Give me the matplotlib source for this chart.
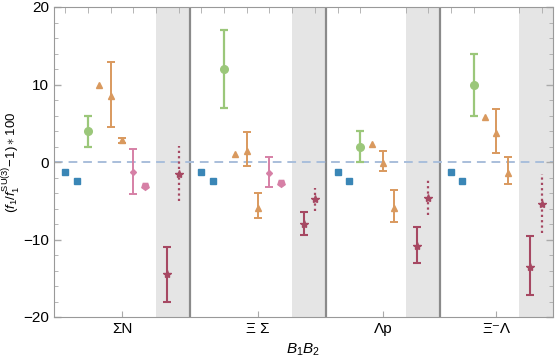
import numpy as np
import matplotlib
matplotlib.use("Agg")
import matplotlib.pyplot as plt

plt.rcParams['font.family'] = ['Liberation Sans', 'DejaVu Sans']
plt.rcParams['mathtext.fontset'] = 'custom'
plt.rcParams['mathtext.rm'] = 'Liberation Sans'
plt.rcParams['mathtext.it'] = 'Liberation Sans:italic'

# %%
# groups and slot layout (one x unit per slot)
groups = ["ΣN", "Ξ Σ", "Λp", "Ξ⁻Λ"]
group_centers = [6, 18, 29, 39]
separators = [12, 24, 34]
shade_ranges = [(9, 12), (21, 24), (31, 34), (41, 44)]

# blue squares (no error)
blue1_x = [1, 13, 25, 35]
blue1_y = [-1.25, -1.25, -1.25, -1.25]
blue2_x = [2, 14, 26, 36]
blue2_y = [-2.5, -2.4, -2.4, -2.5]

# green circles
green_x = [3, 15, 27, 37]
green_y = [4.0, 12.0, 2.0, 10.0]
green_lo = [2.0, 7.0, 0.0, 6.0]
green_hi = [6.0, 17.0, 4.0, 14.0]

# orange triangles without error
otri_x = [4, 16, 28, 38]
otri_y = [9.9, 1.0, 2.3, 5.8]

# orange with error, first
or1_x = [5, 17, 29, 39]
or1_y = [8.5, 1.4, -0.1, 3.7]
or1_lo = [4.5, -0.5, -1.2, 1.2]
or1_hi = [12.9, 3.9, 1.4, 6.8]

# orange with error, second
or2_x = [6, 18, 30, 40]
or2_y = [2.8, -5.9, -5.9, -1.4]
or2_lo = [2.5, -7.2, -7.8, -2.8]
or2_hi = [3.1, -4.0, -3.6, 0.6]

# pink with error
pink_x = [7, 19]
pink_y = [-1.3, -1.4]
pink_lo = [-4.1, -3.2]
pink_hi = [1.7, 0.6]

# pink without error
pink2_x = [8, 20]
pink2_y = [-3.05, -2.7]

# dark red, solid errors
red_x = [10, 22, 32, 42]
red_y = [-14.5, -8.0, -10.8, -13.5]
red_lo = [-18.0, -9.4, -13.0, -17.2]
red_hi = [-11.0, -6.4, -8.4, -9.6]

# dark red, dotted errors
redd_x = [11, 23, 33, 43]
redd_y = [-1.5, -4.8, -4.6, -5.4]
redd_lo = [-5.0, -6.3, -6.8, -9.2]
redd_hi = [2.1, -3.3, -2.15, -1.5]

c_blue = "#3a86b6"
c_green = "#9bc77a"
c_orange = "#d9995e"
c_pink = "#d680a6"
c_red = "#a64862"

# %%
fig = plt.figure(figsize=(5.56, 3.6), dpi=100)
ax = fig.add_axes([54/556, 1-317/360, 499/556, 310/360])

for a, b in shade_ranges:
    ax.axvspan(a, b, color="#e5e5e5", lw=0, zorder=0)
for s in separators:
    ax.axvline(s, color="#8a8a8a", lw=1.6, zorder=1)
ax.axhline(0, color="#a9bedb", lw=1.4, ls=(0, (4.5, 3)), zorder=1)


def err(x, y, lo, hi):
    y = np.array(y)
    return np.array(x), y, np.vstack([y - np.array(lo), np.array(hi) - y])


ax.plot(blue1_x, blue1_y, "s", color=c_blue, ms=4, zorder=3)
ax.plot(blue2_x, blue2_y, "s", color=c_blue, ms=4, zorder=3)

x, y, e = err(green_x, green_y, green_lo, green_hi)
ax.errorbar(x, y, yerr=e, fmt="o", color=c_green, ms=5.5, lw=1.6, capsize=3, capthick=1.6, zorder=3)

ax.plot(otri_x, otri_y, "^", color=c_orange, ms=5, zorder=3)
x, y, e = err(or1_x, or1_y, or1_lo, or1_hi)
ax.errorbar(x, y, yerr=e, fmt="^", color=c_orange, ms=4, lw=1.4, capsize=3, capthick=1.4, zorder=3)
x, y, e = err(or2_x, or2_y, or2_lo, or2_hi)
ax.errorbar(x, y, yerr=e, fmt="^", color=c_orange, ms=4, lw=1.4, capsize=3, capthick=1.4, zorder=3)

x, y, e = err(pink_x, pink_y, pink_lo, pink_hi)
ax.errorbar(x, y, yerr=e, fmt="D", color=c_pink, ms=3, lw=1.4, capsize=3, capthick=1.4, zorder=3)
ax.plot(pink2_x, pink2_y, marker=(5, 0, 180), ls="none", color=c_pink, ms=5.5, zorder=3)

x, y, e = err(red_x, red_y, red_lo, red_hi)
ax.errorbar(x, y, yerr=e, fmt="*", color=c_red, ms=6, lw=1.5, capsize=3, capthick=1.5, zorder=3)
x, y, e = err(redd_x, redd_y, redd_lo, redd_hi)
eb = ax.errorbar(x, y, yerr=e, fmt="*", color=c_red, ms=6, lw=1.6, capsize=0, zorder=3)
eb[2][0].set_linestyle((0, (1, 1.4)))

ax.set_xlim(0, 44)
ax.set_ylim(-20, 20)
ax.set_yticks([-20, -10, 0, 10, 20])
ax.set_yticklabels(["−20", "−10", "0", "10", "20"])
ax.set_yticks(np.arange(-20, 21, 2), minor=True)
ax.set_xticks(group_centers)
ax.set_xticklabels(groups)
ax.set_xticks(np.arange(1, 44, 2), minor=True)
ax.tick_params(axis="both", which="both", direction="in", color="#aaaaaa",
               labelsize=11, top=True, right=True)
ax.tick_params(axis="x", which="minor", bottom=False)
ax.tick_params(axis="y", which="major", length=5, width=1)
ax.tick_params(axis="y", which="minor", length=3)
ax.tick_params(axis="x", which="major", top=False, length=4)
ax.tick_params(axis="x", which="minor", length=4)
ax.tick_params(axis="x", labelsize=11)
for sp in ax.spines.values():
    sp.set_color("#999999")

ax.set_xlabel(r"$B_1B_2$", fontsize=11, labelpad=4)
ax.set_ylabel(r"$(f_1/f_1^{\mathrm{SU(3)}}\!-\!1)\ast 100$", fontsize=9.5)
ax.yaxis.set_label_coords(-0.064, 0.5)

plt.savefig("out.png")
